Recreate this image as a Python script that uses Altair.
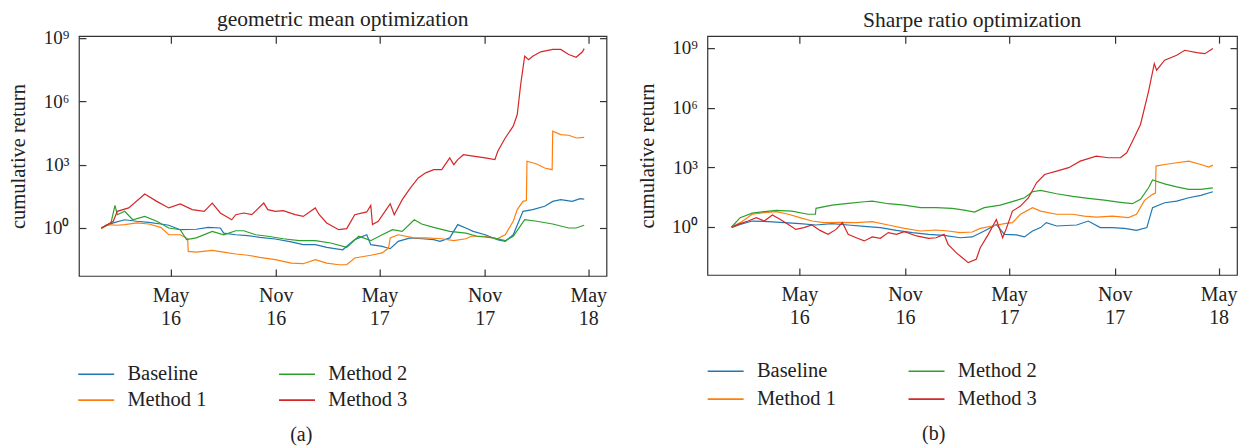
import altair as alt
import pandas as pd

FONT = "Liberation Serif"
TEXT = "#222222"
START = pd.Timestamp("2016-01-01")

series_names = ["Baseline", "Method 1", "Method 2", "Method 3"]
palette = {"Baseline": "#1f77b4", "Method 1": "#ff7f0e",
           "Method 2": "#2ca02c", "Method 3": "#d62728"}

x_tick_dates = ["2016-05-01", "2016-11-01", "2017-05-01", "2017-11-01", "2018-05-01"]
y_tick_values = [1, 1e3, 1e6, 1e9]
y_tick_labels = ["10⁰", "10³", "10⁶", "10⁹"]

# (days since 2016-01-01, log10 of cumulative return)
a_baseline = [(0, 0), (21, 0.24), (41, 0.39), (62, 0.32), (83, 0.27), (104, 0.19), (118, 0.13),
              (138, -0.08), (166, -0.06), (187, 0.03), (208, 0), (214, -0.24), (235, -0.32),
              (256, -0.36), (277, -0.44), (304, -0.52), (332, -0.66), (353, -0.79), (374, -0.79),
              (394, -0.92), (422, -1.03), (443, -0.55), (464, -0.32), (471, -0.79), (491, -0.87),
              (505, -0.98), (519, -0.63), (540, -0.47), (560, -0.51), (581, -0.55), (592, -0.63),
              (609, -0.47), (623, 0.16), (637, 0), (650, -0.16), (671, -0.32), (692, -0.55),
              (706, -0.63), (720, -0.32), (737, 0.79), (754, 0.87), (775, 1.03), (789, 1.26),
              (803, 1.34), (823, 1.26), (837, 1.39), (844, 1.37)]
a_method1 = [(0, -0.05), (10, 0.16), (28, 0.13), (41, 0.16), (62, 0.24), (83, 0.19), (104, 0.03),
             (118, -0.32), (138, -0.32), (149, -0.47), (151, -0.5), (152, -1.11), (166, -1.14),
             (194, -1.06), (214, -1.14), (235, -1.23), (256, -1.29), (277, -1.39), (304, -1.50),
             (332, -1.66), (353, -1.69), (374, -1.50), (394, -1.66), (415, -1.74), (429, -1.74),
             (443, -1.42), (471, -1.29), (491, -1.18), (502, -0.95), (505, -0.47), (519, -0.32),
             (547, -0.47), (567, -0.47), (595, -0.51), (616, -0.60), (637, -0.51), (647, -0.39),
             (671, -0.39), (692, -0.51), (706, -0.32), (720, 0.32), (727, 0.87), (737, 1.26),
             (743, 1.3), (744, 3.16), (761, 3.03), (775, 2.84), (788, 2.76), (789, 4.58),
             (803, 4.42), (817, 4.39), (830, 4.26), (844, 4.29)]
a_method2 = [(0, 0), (17, 0.24), (24, 1.07), (28, 0.63), (41, 0.79), (55, 0.39), (76, 0.55),
             (97, 0.32), (118, 0), (138, -0.08), (149, -0.55), (166, -0.47), (194, -0.16),
             (214, -0.32), (235, -0.13), (249, -0.13), (270, -0.32), (291, -0.39), (318, -0.51),
             (346, -0.60), (374, -0.60), (401, -0.71), (429, -0.92), (450, -0.39), (471, -0.60),
             (491, -0.32), (509, -0.08), (526, -0.16), (547, 0.39), (560, 0.19), (581, 0.03),
             (609, -0.16), (637, -0.24), (657, -0.39), (685, -0.47), (706, -0.60), (720, -0.39),
             (740, 0.39), (761, 0.32), (789, 0.19), (817, 0), (830, 0), (844, 0.13)]
a_method3 = [(0, 0), (21, 0.32), (28, 0.79), (48, 0.95), (76, 1.61), (97, 1.26), (118, 0.95),
             (138, 1.14), (159, 0.87), (180, 0.79), (194, 1.18), (208, 0.71), (228, 0.39),
             (235, 0.63), (249, 0.71), (263, 0.63), (284, 1.18), (291, 0.87), (304, 0.79),
             (318, 0.82), (339, 0.63), (353, 0.55), (374, 0.95), (381, 0.63), (394, 0.24),
             (415, -0.08), (429, -0.03), (443, 0.63), (464, 0.76), (471, 1.07), (474, 0.16),
             (484, 0.32), (498, 0.87), (505, 1.15), (512, 0.63), (526, 1.34), (540, 1.89),
             (554, 2.37), (567, 2.61), (581, 2.76), (595, 2.76), (609, 3.32), (616, 3.00),
             (623, 3.24), (633, 3.47), (650, 3.40), (671, 3.32), (688, 3.24), (693, 3.63),
             (706, 4.26), (720, 4.82), (727, 5.37), (733, 6.79), (740, 8.13), (747, 7.97),
             (754, 8.13), (768, 8.34), (789, 8.45), (803, 8.45), (817, 8.21), (830, 8.08),
             (841, 8.34), (844, 8.49)]

b_baseline = [(3, -0.03), (18, 0.13), (39, 0.30), (67, 0.27), (95, 0.22), (122, 0.17), (150, 0.10),
              (178, 0.17), (206, 0.10), (234, 0.03), (262, -0.03), (290, -0.17), (318, -0.28),
              (346, -0.37), (373, -0.42), (401, -0.54), (422, -0.50), (443, -0.20), (464, 0.13),
              (478, -0.37), (499, -0.40), (513, -0.50), (527, -0.20), (541, -0.03), (551, 0.22),
              (569, 0.05), (604, 0.10), (624, 0.30), (645, -0.03), (666, -0.03), (687, -0.07),
              (708, -0.17), (726, -0.03), (736, 0.97), (757, 1.22), (778, 1.30), (799, 1.47),
              (820, 1.59), (841, 1.77)]
b_method1 = [(3, 0), (18, 0.22), (39, 0.64), (60, 0.72), (81, 0.77), (102, 0.64), (122, 0.47),
             (143, 0.30), (164, 0.22), (192, 0.23), (220, 0.22), (248, 0.27), (276, 0.10),
             (304, -0.07), (332, -0.20), (359, -0.15), (380, -0.20), (401, -0.28), (422, -0.25),
             (436, -0.07), (457, 0.05), (478, 0.17), (492, 0.22), (506, 0.64), (527, 0.97),
             (541, 0.80), (569, 0.64), (597, 0.64), (617, 0.55), (638, 0.50), (666, 0.55),
             (694, 0.47), (708, 0.64), (722, 1.34), (736, 1.64), (741, 1.7), (742, 3.06),
             (757, 3.14), (778, 3.23), (799, 3.31), (820, 3.14), (834, 3.01), (841, 3.11)]
b_method2 = [(3, 0), (18, 0.47), (39, 0.70), (60, 0.77), (81, 0.84), (108, 0.80), (136, 0.64),
             (149, 0.64), (150, 0.94), (178, 1.10), (206, 1.19), (234, 1.27), (248, 1.30),
             (276, 1.17), (304, 1.10), (332, 0.97), (359, 0.97), (387, 0.94), (408, 0.85),
             (426, 0.75), (443, 0.97), (471, 1.10), (499, 1.34), (513, 1.47), (527, 1.77),
             (541, 1.84), (569, 1.67), (597, 1.54), (624, 1.44), (652, 1.35), (680, 1.24),
             (701, 1.17), (715, 1.39), (729, 1.97), (736, 2.36), (757, 2.17), (778, 2.02),
             (799, 1.89), (820, 1.89), (841, 1.97)]
b_method3 = [(3, 0), (18, 0.17), (32, 0.30), (46, 0.47), (60, 0.30), (74, 0.60), (88, 0.38),
             (102, 0.13), (115, -0.12), (129, -0.03), (143, 0.10), (157, -0.17), (171, -0.37),
             (185, -0.12), (196, 0.22), (206, -0.37), (220, -0.54), (234, -0.70), (248, -0.50),
             (262, -0.57), (276, -0.28), (290, -0.37), (304, -0.23), (325, -0.45), (346, -0.57),
             (359, -0.54), (373, -0.37), (380, -0.87), (394, -1.29), (408, -1.62), (415, -1.79),
             (429, -1.62), (436, -1.04), (450, -0.37), (464, 0.38), (475, -0.54), (482, -0.03),
             (492, 0.80), (506, 1.05), (520, 1.47), (534, 2.22), (548, 2.64), (569, 2.81),
             (590, 2.98), (610, 3.31), (638, 3.56), (659, 3.48), (680, 3.48), (691, 3.73),
             (701, 4.31), (715, 5.15), (729, 6.82), (739, 8.21), (743, 7.88), (757, 8.38),
             (778, 8.63), (792, 8.88), (813, 8.76), (827, 8.71), (841, 8.97)]

panel_a = {"Baseline": a_baseline, "Method 1": a_method1, "Method 2": a_method2, "Method 3": a_method3}
panel_b = {"Baseline": b_baseline, "Method 1": b_method1, "Method 2": b_method2, "Method 3": b_method3}


def to_frame(panel):
    rows = []
    for name in series_names:
        for i, (d, e) in enumerate(panel[name]):
            rows.append({"date": START + pd.Timedelta(days=d), "value": 10 ** e,
                         "series": name, "order": i})
    return pd.DataFrame(rows)


x_values = [alt.DateTime(year=int(s[:4]), month=int(s[5:7]), date=int(s[8:])) for s in x_tick_dates]
y_label_expr = " : ".join(
    f"datum.value < {v * 3:g} ? '{lab}'" for v, lab in zip(y_tick_values[:-1], y_tick_labels[:-1])
) + f" : '{y_tick_labels[-1]}'"
x_label_expr = "[timeFormat(datum.value, '%b'), timeFormat(datum.value, '%y')]"

TICK = 7
LEGEND_LINE = "M-2,0H2"   # a horizontal stroke twice as wide as the symbol box


def make_panel(panel, title, title_offset, ylog_dom, caption, caption_x, width, height,
               legend_x, legend_y, legend_row_pad):
    df = to_frame(panel)
    x_scale = alt.Scale(domain=[alt.DateTime(year=2015, month=11, date=23),
                                alt.DateTime(year=2018, month=6, date=2)])
    y_scale = alt.Scale(type="log", domain=[10 ** ylog_dom[0], 10 ** ylog_dom[1]], nice=False)
    color = alt.Color(
        "series:N",
        scale=alt.Scale(domain=series_names, range=[palette[s] for s in series_names]),
        legend=alt.Legend(title=None, orient="none", legendX=legend_x, legendY=legend_y,
                          columns=2, symbolType=LEGEND_LINE, symbolSize=324,
                          symbolStrokeWidth=1.6, labelFont=FONT, labelFontSize=20.5,
                          labelColor=TEXT, labelOffset=21, columnPadding=69,
                          rowPadding=legend_row_pad, padding=0),
    )
    lines = alt.Chart(df).mark_line(strokeWidth=1.2, clip=True).encode(
        x=alt.X("date:T", scale=x_scale,
                axis=alt.Axis(orient="bottom", values=x_values, labelExpr=x_label_expr,
                              tickSize=TICK, offset=-TICK, domain=False, grid=False,
                              labelFont=FONT, labelFontSize=20, labelColor=TEXT,
                              labelLineHeight=23, labelPadding=10, labelFlush=False,
                              labelOverlap=False, tickColor="#333333", tickWidth=1.2,
                              title=caption, titleFont=FONT, titleFontSize=20,
                              titleFontWeight="normal", titleColor=TEXT, titleX=caption_x,
                              titleY=166, titleBaseline="middle", titleAnchor="start",
                              titleAlign="center")),
        y=alt.Y("value:Q", scale=y_scale,
                axis=alt.Axis(orient="left", values=y_tick_values, labelExpr=y_label_expr,
                              tickSize=TICK, offset=-TICK, domain=False, grid=False,
                              labelFont=FONT, labelFontSize=19, labelColor=TEXT,
                              labelPadding=10, tickColor="#333333", tickWidth=1.2,
                              title="cumulative return", titleFont=FONT, titleFontSize=20.5,
                              titleFontWeight="normal", titleColor=TEXT, titlePadding=14)),
        color=color,
        order="order:Q",
    )
    mirror = alt.Chart(df).mark_point(opacity=0, size=1).encode(
        x=alt.X("date:T", scale=x_scale,
                axis=alt.Axis(orient="top", values=x_values, labels=False, tickSize=TICK,
                              offset=-TICK, domain=False, grid=False, title=None,
                              tickColor="#333333", tickWidth=1.2)),
        y=alt.Y("value:Q", scale=y_scale,
                axis=alt.Axis(orient="right", values=y_tick_values, labels=False, tickSize=TICK,
                              offset=-TICK, domain=False, grid=False, title=None,
                              tickColor="#333333", tickWidth=1.2)),
    )
    return alt.layer(lines, mirror).resolve_axis(x="independent", y="independent").properties(
        width=width, height=height,
        title=alt.TitleParams(title, font=FONT, fontSize=21.5, fontWeight="normal", color=TEXT,
                              offset=title_offset),
    )


left = make_panel(panel_a, "geometric mean optimization", -2, (-2.27, 9.08), "(a)", 222,
                  528, 240, 7, 328, 5)
right = make_panel(panel_b, "Sharpe ratio optimization", 4, (-2.41, 9.59), "(b)", 226,
                   530, 239, 8, 325, 7)

chart = alt.hconcat(left, right, spacing=28).resolve_scale(color="independent").properties(
    padding=0
).configure_view(stroke="#333333", strokeWidth=1.2)

chart.save("out.html", embed_options={"renderer": "svg", "actions": False})
